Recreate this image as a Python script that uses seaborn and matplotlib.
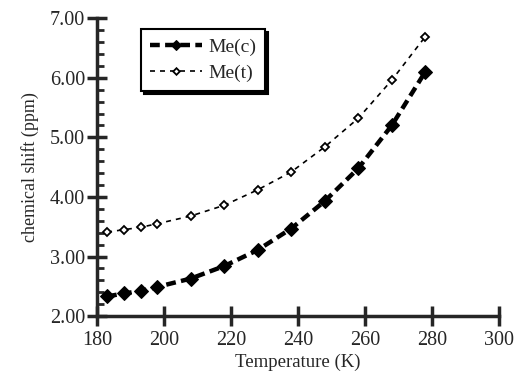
import matplotlib
matplotlib.use('Agg')
import numpy as np
import pandas as pd
import matplotlib.pyplot as plt
from matplotlib.ticker import MultipleLocator, FormatStrFormatter
import seaborn as sns

sns.set_style("ticks")
plt.rcParams['font.family'] = ['Liberation Serif', 'DejaVu Serif']

# data
temps = [183, 188, 193, 198, 208, 218, 228, 238, 248, 258, 268, 278]
me_c = [2.33, 2.38, 2.42, 2.49, 2.63, 2.84, 3.11, 3.47, 3.93, 4.48, 5.20, 6.10]
me_t = [3.41, 3.45, 3.49, 3.55, 3.68, 3.86, 4.12, 4.42, 4.84, 5.32, 5.96, 6.69]

df = pd.DataFrame({'T': temps, 'Me(c)': me_c, 'Me(t)': me_t})

fig = plt.figure(figsize=(5.16, 3.71), dpi=100)
ax = fig.add_axes([0.188, 0.148, 0.779, 0.803])

sns.lineplot(data=df, x='T', y='Me(c)', ax=ax, color='black', linestyle=(0, (2.2, 1.2)),
             linewidth=3.2, marker='D', markersize=7, markerfacecolor='black',
             markeredgecolor='black', label='Me(c)')
sns.lineplot(data=df, x='T', y='Me(t)', ax=ax, color='black', linestyle=(0, (3, 3)),
             linewidth=1.2, marker='D', markersize=4.5, markerfacecolor='white',
             markeredgecolor='black', markeredgewidth=1.3, label='Me(t)')

ax.set_xlim(180, 300)
ax.set_ylim(2.0, 7.0)
ax.xaxis.set_major_locator(MultipleLocator(20))
ax.yaxis.set_major_locator(MultipleLocator(1))
ax.yaxis.set_minor_locator(MultipleLocator(0.2))
ax.yaxis.set_major_formatter(FormatStrFormatter('%.2f'))

sns.despine(ax=ax)
for s in ['left', 'bottom']:
    ax.spines[s].set_linewidth(2.5)
ax.tick_params(axis='both', which='major', direction='inout', length=15, width=2.5,
               labelsize=14.5)
ax.tick_params(axis='x', which='major', pad=3)
ax.tick_params(axis='y', which='major', pad=1)
ax.tick_params(axis='y', which='minor', direction='in', length=5, width=2)

ax.set_xlabel('Temperature (K)', fontsize=13.5, labelpad=3)
ax.set_ylabel('chemical shift (ppm)', fontsize=13, labelpad=8)

leg = ax.legend(loc='upper left', bbox_to_anchor=(0.085, 0.995), fontsize=14,
                frameon=True, fancybox=False, handlelength=2.7, borderpad=0.45,
                labelspacing=0.45, handletextpad=0.3, markerscale=0.75,
                shadow={'color': 'black', 'alpha': 1})
leg.get_frame().set_edgecolor('black')
leg.get_frame().set_linewidth(1.5)

plt.savefig('out.png', dpi=100)
plt.close()
